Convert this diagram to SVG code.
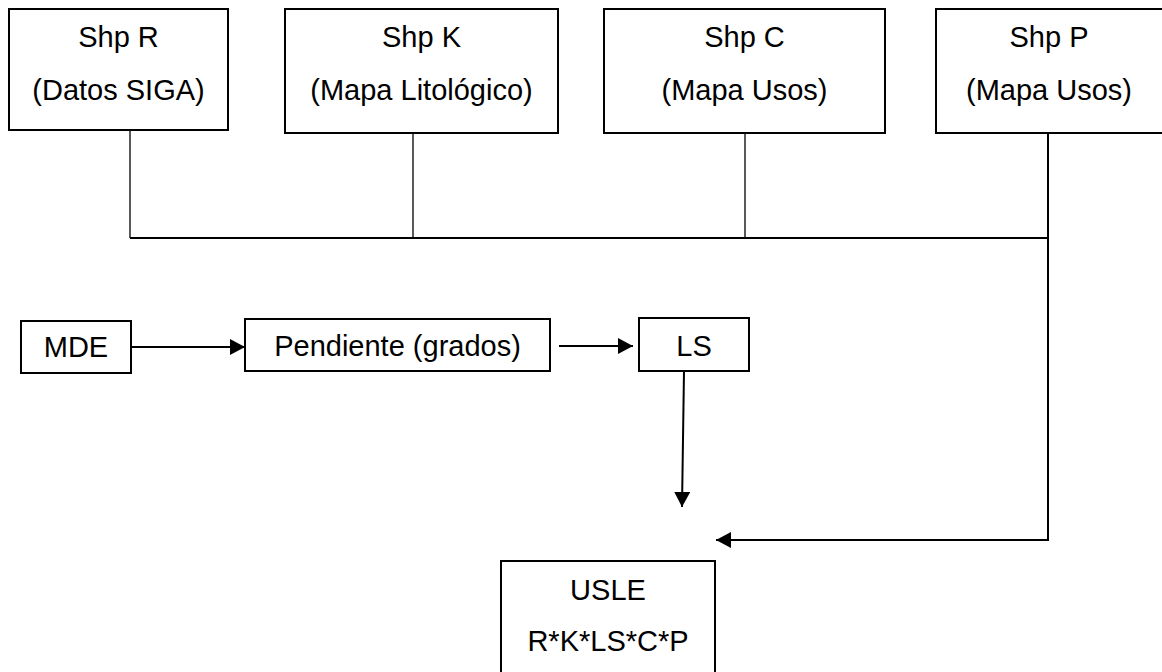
<svg xmlns="http://www.w3.org/2000/svg" width="1162" height="672" viewBox="0 0 1162 672">
<style>
.box{fill:#fff;stroke:#000;stroke-width:2}
.t{font-family:"Liberation Sans",Arial,sans-serif;font-size:29px;fill:#000;text-anchor:middle}
.thin{fill:none;stroke:#000;stroke-width:1.3}
.ln{fill:none;stroke:#000;stroke-width:2}
</style>
<defs>
<marker id="ah" viewBox="0 0 10 10" refX="10" refY="5" markerWidth="15" markerHeight="16" markerUnits="userSpaceOnUse" orient="auto" preserveAspectRatio="none">
<path d="M0,0 L10,5 L0,10 Z" fill="#000"/>
</marker>
</defs>
<rect width="1162" height="672" fill="#fff"/>
<g id="connectors">
<line class="thin" x1="130" y1="130" x2="130" y2="238"/>
<line class="thin" x1="413" y1="133" x2="413" y2="238"/>
<line class="thin" x1="745" y1="133" x2="745" y2="238"/>
<line class="ln" x1="130" y1="238" x2="1048" y2="238"/>
<polyline class="ln" points="1048,133 1048,540 716,540" marker-end="url(#ah)"/>
<line class="ln" x1="132" y1="347" x2="245" y2="347" marker-end="url(#ah)"/>
<line class="ln" x1="559" y1="346" x2="633" y2="346" marker-end="url(#ah)"/>
<line class="ln" x1="684" y1="371" x2="682" y2="507" marker-end="url(#ah)"/>
</g>
<g id="shpR"><rect class="box" x="9" y="9" width="219" height="121"/><text class="t" x="118.5" y="47">Shp R</text><text class="t" x="118.5" y="100">(Datos SIGA)</text></g>
<g id="shpK"><rect class="box" x="285" y="9" width="273" height="124"/><text class="t" x="421.5" y="47">Shp K</text><text class="t" x="421.5" y="100">(Mapa Litológico)</text></g>
<g id="shpC"><rect class="box" x="604" y="9" width="281" height="124"/><text class="t" x="744.5" y="47">Shp C</text><text class="t" x="744.5" y="100">(Mapa Usos)</text></g>
<g id="shpP"><rect class="box" x="936" y="9" width="228" height="124"/><text class="t" x="1049" y="47">Shp P</text><text class="t" x="1049" y="100">(Mapa Usos)</text></g>
<g id="mde"><rect class="box" x="21" y="321" width="110" height="52"/><text class="t" x="76" y="357">MDE</text></g>
<g id="pendiente"><rect class="box" x="245" y="319" width="305" height="52"/><text class="t" x="397.5" y="356">Pendiente (grados)</text></g>
<g id="ls"><rect class="box" x="639" y="318" width="110" height="53"/><text class="t" x="694" y="356">LS</text></g>
<g id="usle"><rect class="box" x="501" y="561" width="214" height="120"/><text class="t" x="608" y="600">USLE</text><text class="t" x="608" y="651">R*K*LS*C*P</text></g>
</svg>
